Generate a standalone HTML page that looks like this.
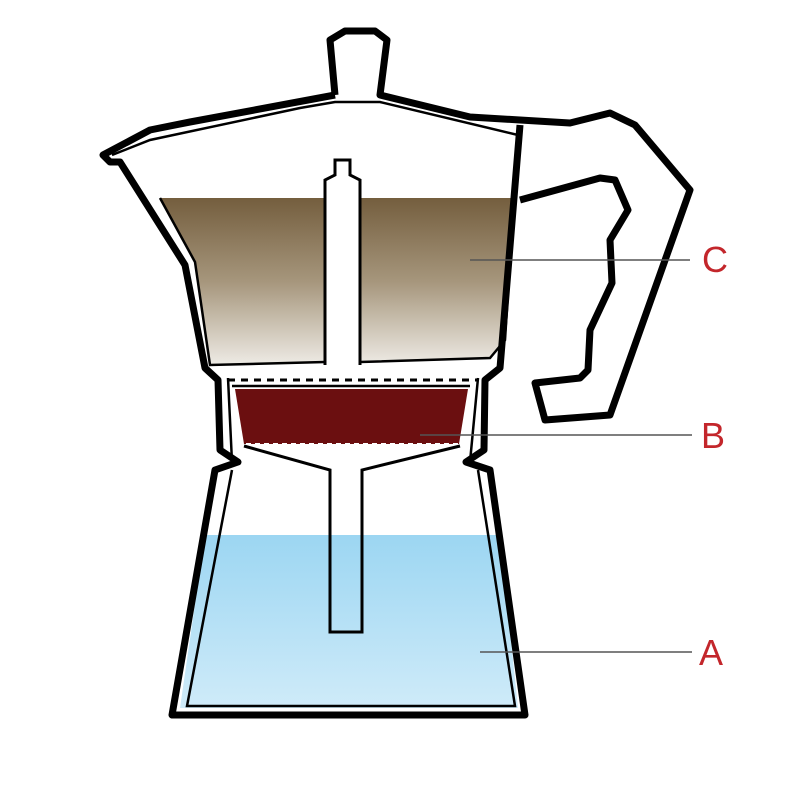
<!DOCTYPE html>
<html><head><style>html,body{margin:0;padding:0;background:#fff}svg{display:block}</style></head>
<body>
<svg width="800" height="800" viewBox="0 0 800 800" xmlns="http://www.w3.org/2000/svg">
<defs>
<linearGradient id="cof" x1="0" y1="0" x2="0" y2="1">
<stop offset="0" stop-color="#745e3e"/><stop offset="0.5" stop-color="#a6967c"/><stop offset="1" stop-color="#eeebe5"/>
</linearGradient>
<linearGradient id="wat" x1="0" y1="0" x2="0" y2="1">
<stop offset="0" stop-color="#9cd6f2"/><stop offset="1" stop-color="#cfebf9"/>
</linearGradient>
</defs>
<polygon points="160,198 516,198 505,340 490,358 210,365 195,262" fill="url(#cof)"/>
<polygon points="205,535 500,535 518,708 180,708" fill="url(#wat)"/>
<polygon points="235,389 468,389 459,444 244,444" fill="#6b0f10"/>
<line x1="246" y1="444" x2="458" y2="444" stroke="#fff" stroke-width="2" stroke-dasharray="5,4"/>
<path d="M325,365 V180 L335,175 V160 H350 V175 L360,180 V365" fill="#fff" stroke="#000" stroke-width="3"/>
<path d="M160,198 L195,262 L210,365 L325,362 M360,362 L490,358 L505,340 L518,135 L380,102 H335 L300,108 L150,140 L112,155" fill="none" stroke="#000" stroke-width="2.5"/>
<path d="M335,95 L330,40 L345,31 L375,31 L387,40 L380,95 L470,117 L520,120 L570,123 L610,113 L635,125 L690,190 L610,415 L545,420 L535,383 L580,378 L588,370 L590,330 L612,283 L610,240 L628,210 L615,180 L600,178 L520,200" fill="none" stroke="#000" stroke-width="7" stroke-linejoin="round"/>
<path d="M335,95 L190,122 L150,130 L103,155 L110,162 L120,162 L185,265 L205,368 L218,380 L220,450 L238,462 L215,470 L172,715 L525,715 L490,470 L466,462 L484,450 L485,380 L500,368 L520,125" fill="none" stroke="#000" stroke-width="7" stroke-linejoin="round"/>
<line x1="228" y1="380" x2="478" y2="380" stroke="#000" stroke-width="3" stroke-dasharray="7,6"/>
<path d="M232,386 L470,386" stroke="#000" stroke-width="2.5"/>
<path d="M244,446 L330,470 V632 H362 V470 L460,446" fill="none" stroke="#000" stroke-width="3"/>
<path d="M232,470 L187,706 L515,706 L478,470" fill="none" stroke="#000" stroke-width="2.5"/>
<path d="M228,378 L232,462 M478,378 L470,462" stroke="#000" stroke-width="2.5"/>
<g stroke="#555" stroke-width="1.5">
<line x1="470" y1="260" x2="690" y2="260"/>
<line x1="420" y1="435" x2="692" y2="435"/>
<line x1="480" y1="652" x2="692" y2="652"/>
</g>
<g font-family="Liberation Sans, sans-serif" font-size="36" fill="#c3262b">
<text x="702" y="272">C</text>
<text x="701" y="448">B</text>
<text x="699" y="665">A</text>
</g>
</svg>
</body></html>
